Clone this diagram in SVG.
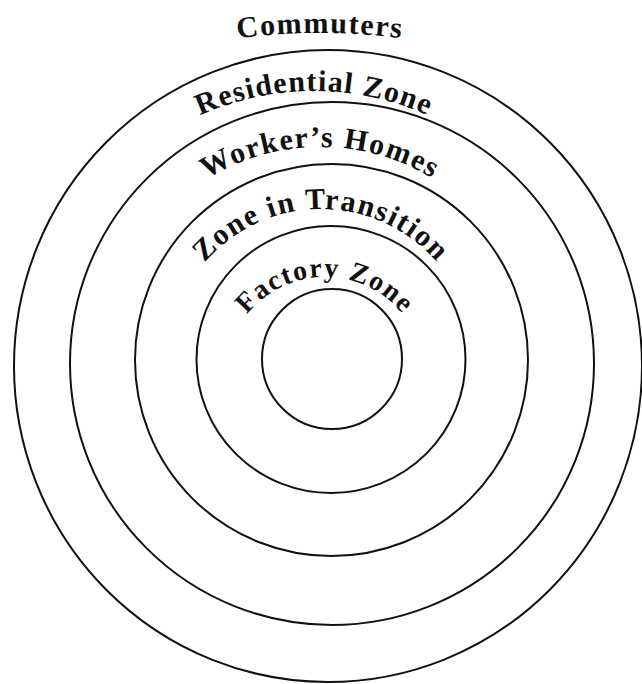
<svg xmlns="http://www.w3.org/2000/svg" xmlns:xlink="http://www.w3.org/1999/xlink" width="642" height="684" viewBox="0 0 642 684">
<style>
.ring{fill:none;stroke:#111;stroke-width:2}
.lbl{font-family:"Liberation Serif","Times New Roman",serif;font-weight:bold;fill:#111;letter-spacing:1.5px}
</style>
<defs>
<path id="pCommuters" d="M58,91 A620,620 0 0 1 582,91"/>
<path id="pResidential" d="M37,368 A277,277 0 0 1 591,368"/>
<path id="pWorkers" d="M103,364 A217,217 0 0 1 537,364"/>
<path id="pTransition" d="M168,362 A153,153 0 0 1 474,362"/>
<path id="pFactory" d="M225,377 A100,100 0 0 1 425,377"/>
</defs>
<rect width="642" height="684" fill="#fff"/>
<g id="rings">
<ellipse id="ring-commuters" class="ring" cx="328" cy="366" rx="314" ry="316"/>
<ellipse id="ring-residential" class="ring" cx="332" cy="363.5" rx="262" ry="261.5"/>
<ellipse id="ring-workers" class="ring" cx="331.5" cy="360" rx="196.5" ry="196"/>
<ellipse id="ring-transition" class="ring" cx="331" cy="359.5" rx="134.5" ry="133.5"/>
<ellipse id="ring-factory" class="ring" cx="332" cy="359" rx="70" ry="70"/>
</g>
<g id="labels">
<text id="t-commuters" class="lbl" font-size="30"><textPath xlink:href="#pCommuters" href="#pCommuters" startOffset="50%" text-anchor="middle">Commuters</textPath></text>
<text id="t-residential" class="lbl" font-size="30" style="letter-spacing:1.2px"><textPath xlink:href="#pResidential" href="#pResidential" startOffset="50%" text-anchor="middle">Residential Zone</textPath></text>
<text id="t-workers" class="lbl" font-size="30"><textPath xlink:href="#pWorkers" href="#pWorkers" startOffset="50%" text-anchor="middle">Worker’s Homes</textPath></text>
<text id="t-transition" class="lbl" font-size="30"><textPath xlink:href="#pTransition" href="#pTransition" startOffset="50%" text-anchor="middle">Zone in Transition</textPath></text>
<text id="t-factory" class="lbl" font-size="28"><textPath xlink:href="#pFactory" href="#pFactory" startOffset="50%" text-anchor="middle">Factory Zone</textPath></text>
</g>
</svg>
